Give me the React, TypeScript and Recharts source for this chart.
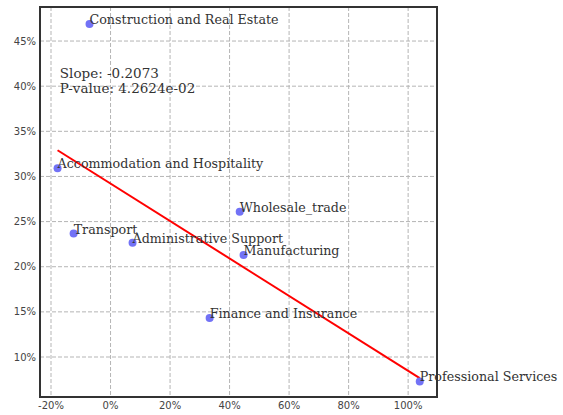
import React from "react";
import {
  ScatterChart,
  Scatter,
  XAxis,
  YAxis,
  CartesianGrid,
  ReferenceLine,
  ReferenceArea,
  ReferenceDot,
} from "recharts";

const industries = [
  "Construction and Real Estate",
  "Accommodation and Hospitality",
  "Transport",
  "Administrative Support",
  "Wholesale_trade",
  "Manufacturing",
  "Finance and Insurance",
  "Professional Services",
];
const xValues = [-7.06, -17.8, -12.4, 7.4, 43.4, 44.7, 33.3, 103.9];
const yValues = [46.88, 30.9, 23.67, 22.67, 26.1, 21.3, 14.33, 7.3];

const fitX = [-17.8, 103.9];
const fitY = [32.9, 7.67];

const xTicks = [-20, 0, 20, 40, 60, 80, 100];
const yTicks = [10, 15, 20, 25, 30, 35, 40, 45];
const xDomain = [-23.7, 109.7];
const yDomain = [5.57, 48.77];

const annotation = ["Slope: -0.2073", "P-value: 4.2624e-02"];
const annotationPos = { x: -17.03, y: 42.29 };

const data = industries.map((name, i) => ({ name, x: xValues[i], y: yValues[i] }));

const SERIF = "'DejaVu Serif', serif";
const SANS = "'DejaVu Sans', sans-serif";

const PointShape = (props: any) => {
  const { cx, cy, payload } = props;
  return (
    <g>
      <circle cx={cx} cy={cy} r={4} fill="#7272f6" />
      <text x={cx} y={cy} fontFamily={SERIF} fontSize={12.7} fill="#333">
        {payload.name}
      </text>
    </g>
  );
};

const AnnotationLabel = (props: any) => {
  const { cx, cy } = props;
  return (
    <g>
      <text x={cx} y={cy + 12} fontFamily={SERIF} fontSize={13.5} fill="#333">
        {annotation[0]}
      </text>
      <text x={cx} y={cy + 27} fontFamily={SERIF} fontSize={13.5} fill="#333">
        {annotation[1]}
      </text>
    </g>
  );
};

export default function App() {
  return (
    <div style={{ position: "absolute", left: 0, top: 0, background: "#fff" }}>
      <ScatterChart
        width={563}
        height={415}
        margin={{ top: 7, right: 126, bottom: 0, left: 0 }}
      >
        <CartesianGrid stroke="#b5b5b5" strokeDasharray="4 2" />
        <XAxis
          type="number"
          dataKey="x"
          domain={xDomain}
          ticks={xTicks}
          tickFormatter={(v: number) => `${v}%`}
          axisLine={false}
          tickLine={false}
          tickSize={3}
          tickMargin={2}
          height={18}
          tick={{ fontFamily: SANS, fontSize: 10, fill: "#444" }}
        />
        <YAxis
          type="number"
          dataKey="y"
          domain={yDomain}
          ticks={yTicks}
          tickFormatter={(v: number) => `${v}%`}
          axisLine={false}
          tickLine={false}
          tickSize={2}
          tickMargin={2}
          width={40}
          tick={{ fontFamily: SANS, fontSize: 10, fill: "#444" }}
        />
        <Scatter data={data} shape={<PointShape />} isAnimationActive={false} />
        <ReferenceLine
          segment={[
            { x: fitX[0], y: fitY[0] },
            { x: fitX[1], y: fitY[1] },
          ]}
          stroke="#ff0000"
          strokeWidth={2}
        />
        <ReferenceDot
          x={annotationPos.x}
          y={annotationPos.y}
          r={0}
          shape={<AnnotationLabel />}
        />
        <ReferenceArea
          x1={xDomain[0]}
          x2={xDomain[1]}
          y1={yDomain[0]}
          y2={yDomain[1]}
          fill="none"
          fillOpacity={0}
          stroke="#333"
          strokeWidth={2}
        />
      </ScatterChart>
    </div>
  );
}
